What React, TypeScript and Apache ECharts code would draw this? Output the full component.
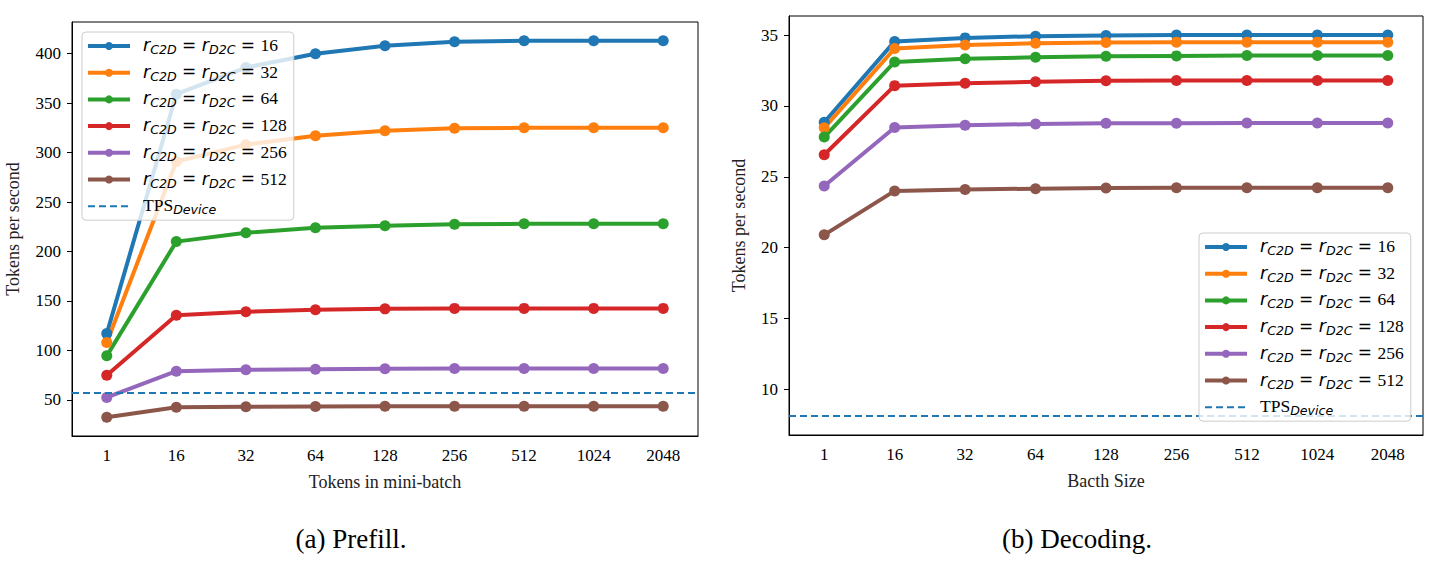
import React, { useEffect, useRef } from 'react';
import * as echarts from 'echarts';

const categories = ['1', '16', '32', '64', '128', '256', '512', '1024', '2048'];
const ratios = [16, 32, 64, 128, 256, 512];
const colors = ['#1f77b4', '#ff7f0e', '#2ca02c', '#d62728', '#9467bd', '#8c564b'];

const prefill16 = [117, 359, 386, 400, 408, 412, 413, 413, 413];
const prefill32 = [108, 291, 308, 317, 322, 324.5, 325, 325, 325];
const prefill64 = [94.5, 210, 219, 224, 226, 227.5, 228, 228, 228];
const prefill128 = [75, 135.5, 139, 141, 142, 142.5, 142.5, 142.5, 142.5];
const prefill256 = [52.5, 79, 80.5, 81, 81.5, 81.8, 81.8, 81.8, 81.8];
const prefill512 = [32.5, 42.5, 43, 43.3, 43.5, 43.6, 43.6, 43.6, 43.6];
const prefillTPS = 57.5;

const decode16 = [28.85, 34.55, 34.8, 34.92, 34.97, 35.0, 35.0, 35.0, 35.0];
const decode32 = [28.45, 34.05, 34.3, 34.42, 34.48, 34.5, 34.5, 34.5, 34.5];
const decode64 = [27.8, 33.1, 33.33, 33.43, 33.5, 33.53, 33.55, 33.55, 33.55];
const decode128 = [26.55, 31.43, 31.6, 31.7, 31.77, 31.8, 31.8, 31.8, 31.8];
const decode256 = [24.35, 28.48, 28.63, 28.72, 28.77, 28.78, 28.79, 28.79, 28.79];
const decode512 = [20.9, 24.0, 24.1, 24.16, 24.2, 24.22, 24.22, 24.22, 24.22];
const decodeTPS = 8.12;

const prefillTicks = [50, 100, 150, 200, 250, 300, 350, 400];
const decodeTicks = [10, 15, 20, 25, 30, 35];

const prefillSeries = [prefill16, prefill32, prefill64, prefill128, prefill256, prefill512];
const decodeSeries = [decode16, decode32, decode64, decode128, decode256, decode512];

const SERIF = 'Liberation Serif';
const SANS = 'DejaVu Sans';

function extent(series: number[][], tps: number): [number, number] {
  let lo = tps;
  let hi = tps;
  series.forEach((s) => s.forEach((v) => { lo = Math.min(lo, v); hi = Math.max(hi, v); }));
  const pad = (hi - lo) * 0.05;
  return [lo - pad, hi + pad];
}

function legendFormatter(name: string): string {
  const parts = name.split('|');
  if (parts[1] === 'tps') return '{n|TPS}{s|Device}';
  return '{r|r}{s|C2D}{e| = }{r|r}{s|D2C}{e| = }{n|' + parts[1] + '}';
}

const rich = {
  r: { fontFamily: SANS, fontStyle: 'italic', fontSize: 17.5, lineHeight: 20, verticalAlign: 'top', color: '#000' },
  s: { fontFamily: SANS, fontStyle: 'italic', fontSize: 12.6, lineHeight: 8, verticalAlign: 'bottom', color: '#000' },
  e: { fontFamily: SANS, fontSize: 17, lineHeight: 20, verticalAlign: 'top', color: '#000' },
  n: { fontFamily: SERIF, fontSize: 17.5, lineHeight: 20, verticalAlign: 'top', color: '#000' },
};

function buildPanel(idx: number, key: string, data: number[][], tps: number, ticks: number[], xName: string, legendPos: { left: number; top: number }) {
  const [lo, hi] = extent(data, tps);
  const names = ratios.map((r) => key + '|' + r);
  const tpsName = key + '|tps';
  const series: any[] = data.map((d, i) => ({
    name: names[i],
    type: 'line',
    xAxisIndex: idx,
    yAxisIndex: idx,
    data: d,
    symbol: 'circle',
    symbolSize: 11,
    showSymbol: true,
    lineStyle: { width: 4, color: colors[i] },
    itemStyle: { color: colors[i] },
    emphasis: { disabled: true },
    z: 2,
  }));
  series.push({
    name: tpsName,
    type: 'line',
    xAxisIndex: idx,
    yAxisIndex: idx,
    data: [],
    symbol: 'circle',
    lineStyle: { width: 2, color: '#1f77b4', type: [7, 4] },
    itemStyle: { color: 'rgba(0,0,0,0)' },
    markLine: {
      silent: true,
      symbol: 'none',
      label: { show: false },
      lineStyle: { width: 2, color: '#1f77b4', type: [7, 4] },
      data: [{ yAxis: tps }],
    },
    z: 2,
  });
  const xAxis = {
    type: 'category',
    gridIndex: idx,
    data: categories,
    boundaryGap: true,
    axisLine: { lineStyle: { color: '#000', width: 1 } },
    axisTick: { alignWithLabel: true, length: 5, lineStyle: { color: '#000' } },
    axisLabel: { color: '#000', fontFamily: SERIF, fontSize: 17, margin: 11 },
    splitLine: { show: false },
    name: xName,
    nameLocation: 'middle',
    nameGap: 37,
    nameTextStyle: { fontFamily: SERIF, fontSize: 18, color: '#222' },
  };
  const yAxis = {
    type: 'value',
    gridIndex: idx,
    min: lo,
    max: hi,
    splitNumber: 8,
    axisLine: { show: true, lineStyle: { color: '#000', width: 1 } },
    axisTick: { show: true, length: 5, lineStyle: { color: '#000' }, customValues: ticks },
    axisLabel: { color: '#000', fontFamily: SERIF, fontSize: 17, margin: 11, customValues: ticks },
    splitLine: { show: false },
    name: 'Tokens per second',
    nameLocation: 'middle',
    nameGap: idx === 0 ? 50 : 41,
    nameRotate: 90,
    nameTextStyle: { fontFamily: SERIF, fontSize: 18, color: '#222' },
  };
  const legend = {
    show: true,
    orient: 'vertical',
    left: legendPos.left,
    top: legendPos.top,
    z: 100,
    padding: [4, 7, 4, 4],
    itemWidth: 42,
    itemHeight: 10,
    itemGap: 6.7,
    backgroundColor: 'rgba(255,255,255,0.8)',
    borderColor: '#cccccc',
    borderWidth: 1,
    borderRadius: 4,
    selectedMode: false,
    data: [
      ...names.map((n) => ({ name: n, lineStyle: { width: 4 } })),
      { name: tpsName, lineStyle: { width: 2 } },
    ],
    formatter: legendFormatter,
    textStyle: { padding: [0, 0, 0, 8], rich },
  };
  return { series, xAxis, yAxis, legend };
}

export default function App() {
  const ref = useRef<HTMLDivElement>(null);
  useEffect(() => {
    if (!ref.current) return;
    const chart = echarts.init(ref.current, undefined, { renderer: 'svg' });
    const a = buildPanel(0, 'p', prefillSeries, prefillTPS, prefillTicks, 'Tokens in mini-batch', { left: 82, top: 32 });
    const b = buildPanel(1, 'd', decodeSeries, decodeTPS, decodeTicks, 'Bacth Size', { left: 1199, top: 233 });
    const option: any = {
      animation: false,
      backgroundColor: '#fff',
      grid: [
        { left: 72, top: 22, width: 626, height: 414, show: true, borderColor: '#000', borderWidth: 1, backgroundColor: 'transparent' },
        { left: 789, top: 16, width: 634, height: 419, show: true, borderColor: '#000', borderWidth: 1, backgroundColor: 'transparent' },
      ],
      xAxis: [a.xAxis, b.xAxis],
      yAxis: [a.yAxis, b.yAxis],
      legend: [a.legend, b.legend],
      series: [...a.series, ...b.series],
      graphic: [
        {
          type: 'text',
          x: 351,
          y: 539,
          style: { text: '(a) Prefill.', fontFamily: SERIF, fontSize: 27, fill: '#000', align: 'center', verticalAlign: 'middle' },
        },
        {
          type: 'text',
          x: 1077,
          y: 539,
          style: { text: '(b) Decoding.', fontFamily: SERIF, fontSize: 27, fill: '#000', align: 'center', verticalAlign: 'middle' },
        },
      ],
    };
    chart.setOption(option);
    return () => chart.dispose();
  }, []);
  return <div ref={ref} style={{ position: 'absolute', left: 0, top: 0, width: 1442, height: 562, background: '#fff' }} />;
}
